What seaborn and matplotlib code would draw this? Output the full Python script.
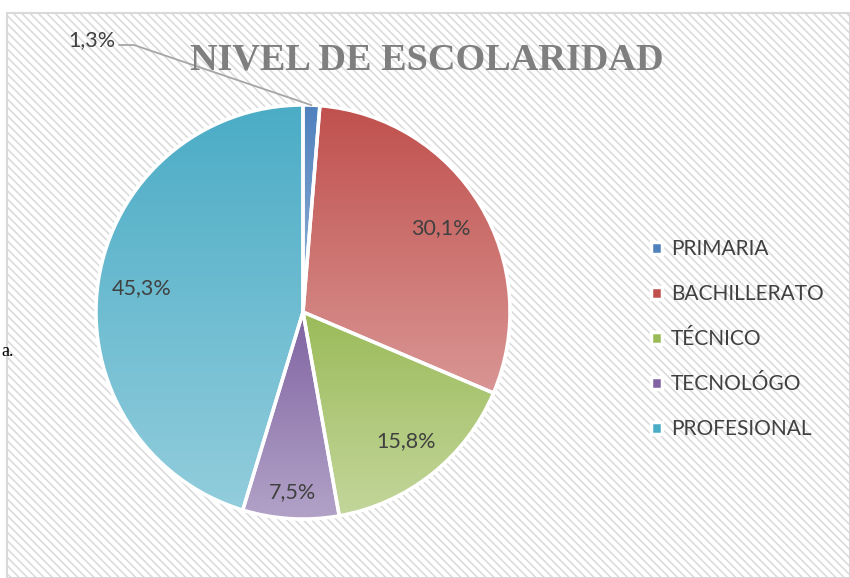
"""
Pie chart: NIVEL DE ESCOLARIDAD.
"""

import numpy as np
import matplotlib
matplotlib.use('Agg')
import matplotlib.pyplot as plt
import seaborn as sns
from matplotlib.patches import Rectangle, Wedge

# data
categories = ['PRIMARIA', 'BACHILLERATO', 'TÉCNICO', 'TECNOLÓGO', 'PROFESIONAL']
shares = [1.3, 30.1, 15.8, 7.5, 45.3]
base_colors = ['#4F81BD', '#C0504D', '#9BBB59', '#8064A2', '#4BACC6']
light_colors = ['#95B3D7', '#D99694', '#C3D69B', '#B2A2C7', '#92CDDC']
title = 'NIVEL DE ESCOLARIDAD'

W, H = 850, 578
CX, CY, R = 303, 578 - 312, 207

sns.set_style('white')
plt.rcParams['font.family'] = ['Lato', 'DejaVu Sans']
plt.rcParams['hatch.color'] = '#E4E4E4'
plt.rcParams['hatch.linewidth'] = 1.1

fig = plt.figure(figsize=(W / 100, H / 100), dpi=100)
ax = fig.add_axes([0, 0, 1, 1])
ax.set_xlim(0, W)
ax.set_ylim(0, H)
ax.axis('off')

# chart frame with hatched background
ax.add_patch(Rectangle((7, 0), W - 7, H - 13, facecolor='white', edgecolor='#D9D9D9',
                       hatch='\\' * 4, linewidth=1.5, zorder=0))
fig.text(1 / W, 1 - 352 / H, 'a.', ha='left', va='center', fontsize=13,
         family='Liberation Serif', color='black')

wedges, _ = ax.pie(shares, colors=base_colors, startangle=90, counterclock=False,
                   center=(CX, CY), radius=R, frame=True,
                   wedgeprops=dict(edgecolor='white', linewidth=2.5))
ax.set_xlim(0, W)
ax.set_ylim(0, H)
ax.set_autoscale_on(False)

# vertical gradient per slice, dark at top and light at bottom
for w, c0, c1 in zip(wedges, base_colors, light_colors):
    th = np.radians(np.linspace(w.theta1, w.theta2, 200))
    xs = np.r_[CX, CX + R * np.cos(th)]
    ys = np.r_[CY, CY + R * np.sin(th)]
    cmap = sns.blend_palette([c0, c1], as_cmap=True)
    grad = np.linspace(0, 1, 256).reshape(-1, 1)
    im = ax.imshow(grad, cmap=cmap, aspect='auto', origin='upper',
                   extent=(xs.min(), xs.max(), ys.min(), ys.max()), zorder=1.5)
    im.set_clip_path(w)
    ax.add_patch(Wedge((CX, CY), R, w.theta1, w.theta2, facecolor='none',
                       edgecolor='white', linewidth=2.5, zorder=2))

# percent labels
dists = [None, 0.78, 0.80, 0.87, 0.79]
for w, v, d in zip(wedges, shares, dists):
    txt = f'{v:.1f}'.replace('.', ',') + '%'
    mid = np.radians((w.theta1 + w.theta2) / 2)
    if d is None:
        ex, ey = CX + R * np.cos(mid), CY + R * np.sin(mid)
        ax.plot([119, 134, ex], [H - 45, H - 45, ey], color='#A6A6A6', lw=1.3, zorder=3)
        ax.text(115, H - 40, txt, ha='right', va='center', fontsize=15.5, color='#404040')
    else:
        ax.text(CX + d * R * np.cos(mid), CY + d * R * np.sin(mid), txt,
                ha='center', va='center', fontsize=15.5, color='#404040', zorder=3)

ax.text(427, H - 60, title, ha='center', va='center', fontsize=27.5, fontweight='bold',
        family='Liberation Serif', color='#7F7F7F', zorder=3)

leg = ax.legend(wedges, categories, loc='upper left', bbox_to_anchor=(641 / W, 1 - 229 / H),
                bbox_transform=fig.transFigure, frameon=False, fontsize=15,
                handlelength=0.5, handleheight=0.5, handletextpad=0.45, labelspacing=1.2,
                borderpad=0, labelcolor='#404040')

fig.savefig('out.png', dpi=100)
